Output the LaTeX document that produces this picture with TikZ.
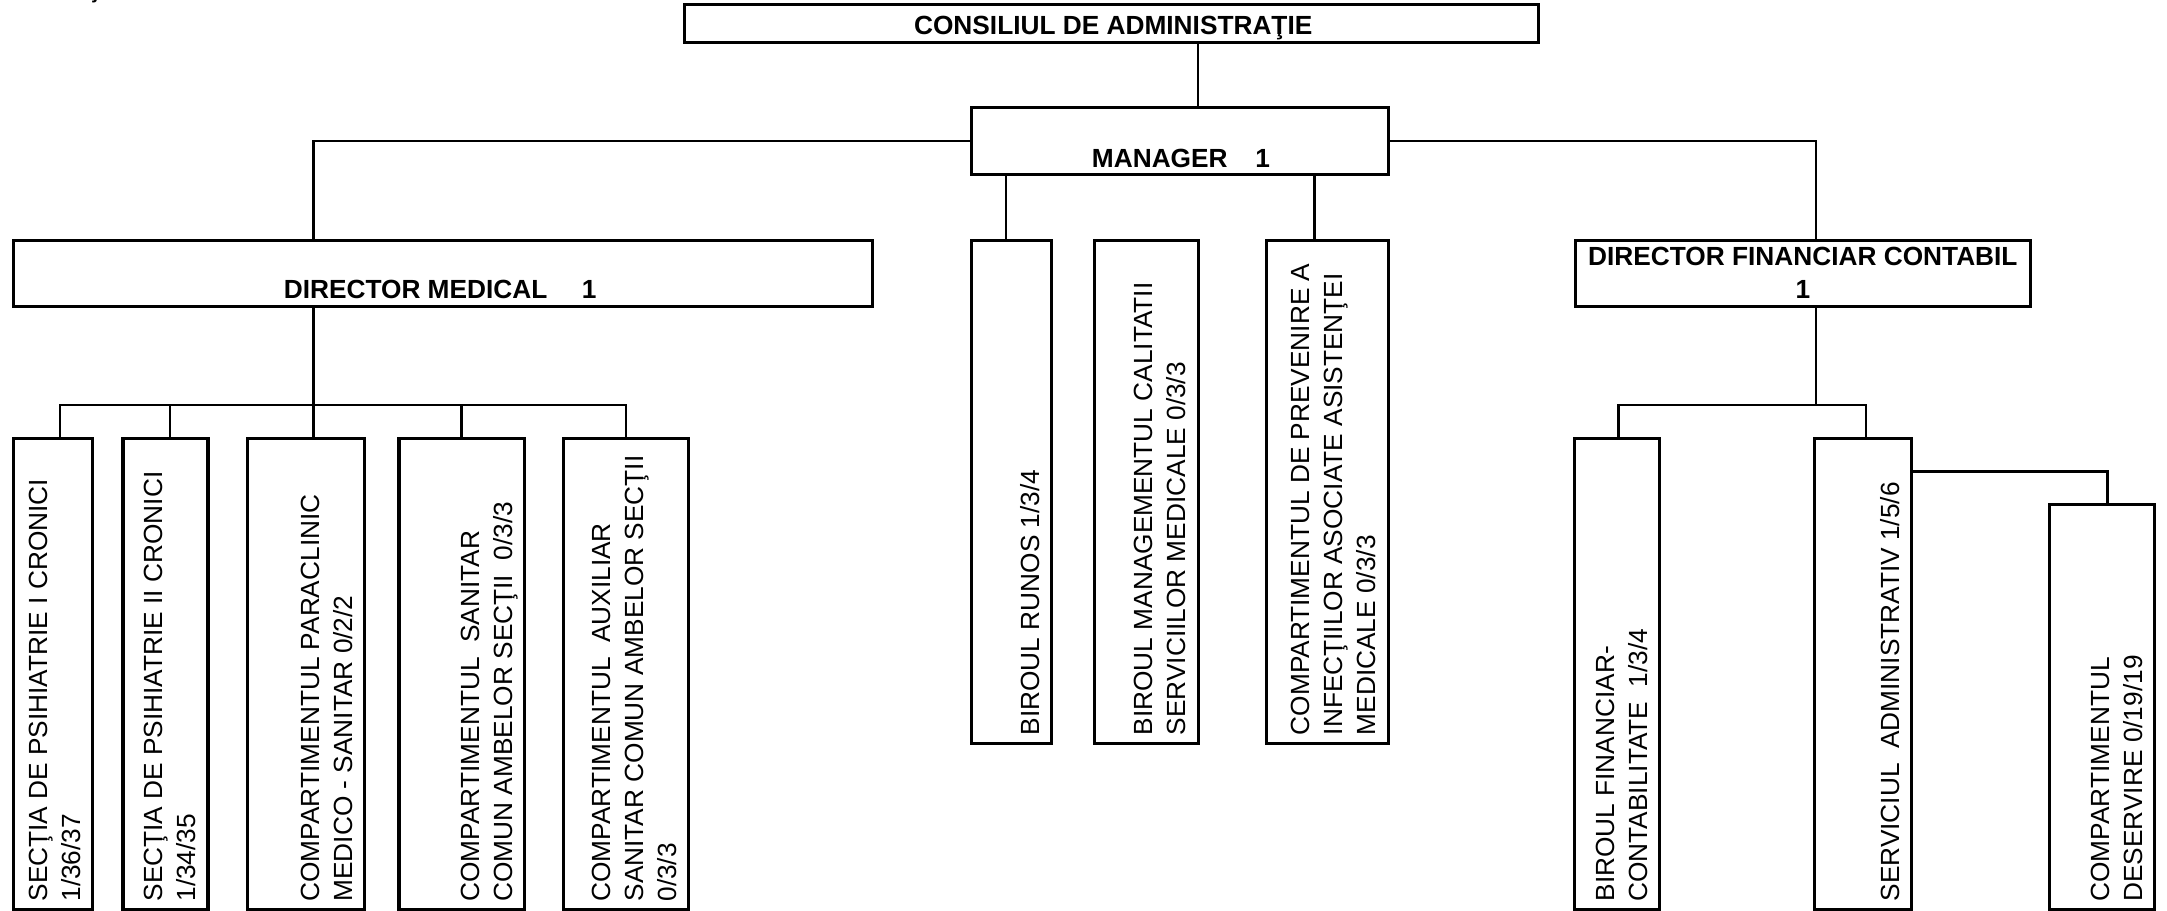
\documentclass[tikz,border=0pt]{standalone}
\usepackage{fontspec}
\setmainfont{Liberation Sans}
\begin{document}
\begin{tikzpicture}[x=1pt,y=-1pt,
  box/.style={draw,line width=2.2pt,inner sep=0pt,outer sep=0pt,anchor=north west},
  conn/.style={draw,line width=1.8pt},
  htext/.style={font=\bfseries\fontsize{19}{24}\selectfont,inner sep=0pt},
  vtext/.style={font=\fontsize{19}{24}\selectfont,rotate=90,align=left,inner sep=0pt,text depth=0pt,anchor=south west}]
\useasboundingbox (0,0) rectangle (1568,659);
% stray fragment at top
\node[font=\fontsize{19}{24}\selectfont,inner sep=0pt,anchor=base west] (jfrag) at (67,-1.6) {j};
% boxes
\node[box,minimum width=617.4pt,minimum height=27.4pt] (ca) at (495.6,3.6) {};
\node[box,minimum width=302pt,minimum height=48pt] (mgr) at (703,78) {};
\node[box,minimum width=621.3pt,minimum height=47.5pt] (dm) at (9.7,174) {};
\node[box,minimum width=329pt,minimum height=47.5pt] (dfc) at (1140,174) {};
\node[box,minimum width=57.5pt,minimum height=364pt] (runos) at (703,173.7) {};
\node[box,minimum width=75pt,minimum height=364pt] (bmc) at (792,173.7) {};
\node[box,minimum width=88pt,minimum height=364pt] (cpi) at (916.5,173.7) {};
\node[box,minimum width=57.2pt,minimum height=341pt] (s1) at (9.6,317) {};
\node[box,minimum width=61.5pt,minimum height=341pt] (s2) at (89,317) {};
\node[box,minimum width=85pt,minimum height=341pt] (s3) at (178.8,317) {};
\node[box,minimum width=91pt,minimum height=341pt] (s4) at (288.7,317) {};
\node[box,minimum width=91pt,minimum height=341pt] (s5) at (407.5,317) {};
\node[box,minimum width=62pt,minimum height=341pt] (bfc) at (1139,317) {};
\node[box,minimum width=70pt,minimum height=341pt] (sa) at (1313,317) {};
\node[box,minimum width=76pt,minimum height=293pt] (cd) at (1483,365) {};
% heading texts
\node[htext,anchor=base] (cat) at (805.5,25) {CONSILIUL DE ADMINISTRAŢIE};
\node[htext,anchor=base] (mgrt) at (854.5,121) {MANAGER\hspace{20pt}1};
\node[htext,anchor=base] (dmt) at (318.5,216) {DIRECTOR MEDICAL\hspace{25pt}1};
\node[htext,align=center,text depth=0pt,anchor=south] (dfct) at (1304.5,216) {DIRECTOR FINANCIAR CONTABIL\\1};
% vertical texts
\node[vtext] (s1t) at ([shift={(-8.5,-5.5)}]s1.south east) {SECŢIA DE PSIHIATRIE I CRONICI\\1/36/37};
\node[vtext] (s2t) at ([shift={(-8.5,-5.5)}]s2.south east) {SECŢIA DE PSIHIATRIE II CRONICI\\1/34/35};
\node[vtext] (s3t) at ([shift={(-8.5,-5.5)}]s3.south east) {COMPARTIMENTUL PARACLINIC\\MEDICO - SANITAR 0/2/2};
\node[vtext] (s4t) at ([shift={(-8.5,-5.5)}]s4.south east) {COMPARTIMENTUL\ \ SANITAR\\COMUN AMBELOR SECŢII\ \ 0/3/3};
\node[vtext] (s5t) at ([shift={(-8.5,-5.5)}]s5.south east) {COMPARTIMENTUL\ \ AUXILIAR\\SANITAR COMUN AMBELOR SECŢII\\0/3/3};
\node[vtext] (runost) at ([shift={(-8.5,-5.5)}]runos.south east) {BIROUL RUNOS 1/3/4};
\node[vtext] (bmct) at ([shift={(-9,-5.5)}]bmc.south east) {BIROUL MANAGEMENTUL CALITATII\\SERVICIILOR MEDICALE 0/3/3};
\node[vtext] (cpit) at ([shift={(-9,-5.5)}]cpi.south east) {COMPARTIMENTUL DE PREVENIRE A\\INFECŢIILOR ASOCIATE ASISTENŢEI\\MEDICALE 0/3/3};
\node[vtext] (bfct) at ([shift={(-8.5,-5.5)}]bfc.south east) {BIROUL FINANCIAR-\\CONTABILITATE\ \ 1/3/4};
\node[vtext] (sat) at ([shift={(-8.5,-5.5)}]sa.south east) {SERVICIUL\ \ ADMINISTRATIV 1/5/6};
\node[vtext] (cdt) at ([shift={(-8.5,-5.5)}]cd.south east) {COMPARTIMENTUL\\DESERVIRE 0/19/19};
% helper coordinates
\coordinate (c867) at (867,0);
\coordinate (c227) at (226.8,0);
\coordinate (c1314) at (1314,0);
\coordinate (c728) at (728,0);
\coordinate (c951) at (951,0);
\coordinate (c43) at (43.4,0);
\coordinate (c123) at (123,0);
\coordinate (c334) at (334,0);
\coordinate (c453) at (453,0);
\coordinate (c1171) at (1171,0);
\coordinate (c1350) at (1350,0);
\coordinate (c1525) at (1525,0);
\coordinate (busL) at (0,293);
\coordinate (y341) at (0,341);
% connectors
\draw[conn] (c867 |- ca.south) -- (c867 |- mgr.north);
\draw[conn] (mgr.west) -| (c227 |- dm.north);
\draw[conn] (mgr.east) -| (c1314 |- dfc.north);
\draw[conn] (c728 |- mgr.south) -- (c728 |- runos.north);
\draw[conn] (c951 |- mgr.south) -- (c951 |- cpi.north);
\draw[conn] (c227 |- dm.south) -- (c227 |- s3.north);
\draw[conn] (c43 |- s1.north) |- (c453 |- busL) -- (c453 |- s5.north);
\draw[conn] (c123 |- busL) -- (c123 |- s2.north);
\draw[conn] (c334 |- busL) -- (c334 |- s4.north);
\draw[conn] (c1314 |- dfc.south) -- (c1314 |- busL);
\draw[conn] (c1171 |- bfc.north) |- (c1350 |- busL) -- (c1350 |- sa.north);
\draw[conn] (sa.east |- y341) -| (c1525 |- cd.north);
\end{tikzpicture}
\end{document}
